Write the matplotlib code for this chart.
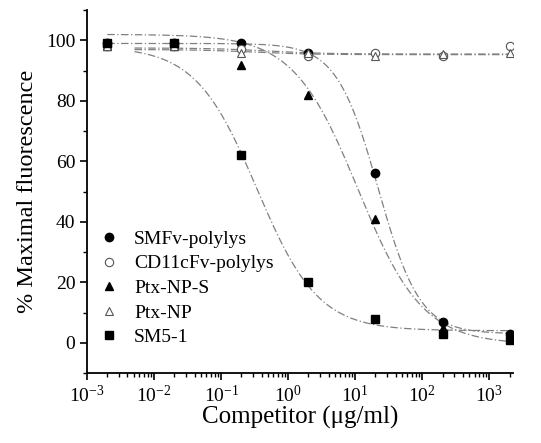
import numpy as np
import matplotlib
matplotlib.use("Agg")
import matplotlib.pyplot as plt
from matplotlib.ticker import LogLocator, MultipleLocator, NullFormatter

plt.rcParams['font.family'] = ['Liberation Serif', 'DejaVu Serif']
plt.rcParams['mathtext.fontset'] = 'custom'
plt.rcParams['mathtext.rm'] = 'Liberation Serif'

# concentrations (ug/ml)
conc = [0.002, 0.02, 0.2, 2, 20, 200, 2000]

smfv = [99, 99, 99, 96, 56, 7, 3]
cd11c = [98, 98, 97, 95, 96, 95, 98]
ptx_np_s = [98, 98, 92, 82, 41, 5, 2]
ptx_np = [98, 98, 96, 96, 95, 95.5, 96]
sm5 = [99, 99, 62, 20, 8, 3, 1]

labels = ["SMFv-polylys", "CD11cFv-polylys", "Ptx-NP-S", "Ptx-NP", "SM5-1"]

# sigmoid fit parameters: top, bottom, EC50, hill
fit_smfv = (99, 3, 22, 1.4)
fit_cd11c = (97.5, 95.5, 0.5, 1.0)
fit_ptx_np_s = (102, -0.5, 11, 0.9)
fit_ptx_np = (97, 95.3, 0.3, 1.0)
fit_sm5 = (98, 4, 0.34, 0.95)


def logistic(x, top, bottom, ec50, hill):
    return bottom + (top - bottom) / (1 + (x / ec50) ** hill)


fig = plt.figure(figsize=(5.41, 4.43), dpi=100)
ax = fig.add_axes([0.161, 0.158, 0.787, 0.819])

xs = np.logspace(np.log10(0.002), np.log10(2000), 400)
for p, start in [(fit_smfv, 0.002), (fit_cd11c, 0.005), (fit_ptx_np_s, 0.002),
                 (fit_ptx_np, 0.005), (fit_sm5, 0.005)]:
    xx = xs[xs >= start]
    ax.plot(xx, logistic(xx, *p), color='#808080', lw=0.9, ls=(0, (6, 2, 1, 2)))

ms = 6
ax.plot(conc, smfv, 'o', color='black', ms=ms, label=labels[0])
ax.plot(conc, cd11c, 'o', mfc='white', mec='#555555', mew=0.8, ms=ms, label=labels[1])
ax.plot(conc, ptx_np_s, '^', color='black', ms=ms, label=labels[2])
ax.plot(conc, ptx_np, '^', mfc='white', mec='#555555', mew=0.8, ms=ms, label=labels[3])
ax.plot(conc, sm5, 's', color='black', ms=ms - 0.8, label=labels[4])

ax.set_xscale('log')
ax.set_xlim(1e-3, 10 ** 3.35)
ax.set_ylim(-10, 110)
ax.set_yticks([0, 20, 40, 60, 80, 100])
ax.yaxis.set_minor_locator(MultipleLocator(10))
ax.xaxis.set_major_locator(LogLocator(base=10, numticks=10))
ax.xaxis.set_minor_locator(LogLocator(base=10, subs=np.arange(2, 10), numticks=10))
ax.xaxis.set_minor_formatter(NullFormatter())

for s in ['top', 'right']:
    ax.spines[s].set_visible(False)
for s in ['left', 'bottom']:
    ax.spines[s].set_linewidth(1.3)
ax.tick_params(which='major', direction='out', length=5, width=1.2, labelsize=14)
ax.tick_params(which='minor', direction='out', length=3, width=1.0)

ax.set_xlabel("Competitor (\u03bcg/ml)", fontsize=18, labelpad=0)
ax.set_ylabel("% Maximal fluorescence", fontsize=17.5, labelpad=6)

ax.legend(loc='upper left', bbox_to_anchor=(0.01, 0.415), frameon=False,
          fontsize=14, handlelength=1.0, handletextpad=0.8, labelspacing=0.36,
          borderaxespad=0)

fig.savefig("out.png", dpi=100)
